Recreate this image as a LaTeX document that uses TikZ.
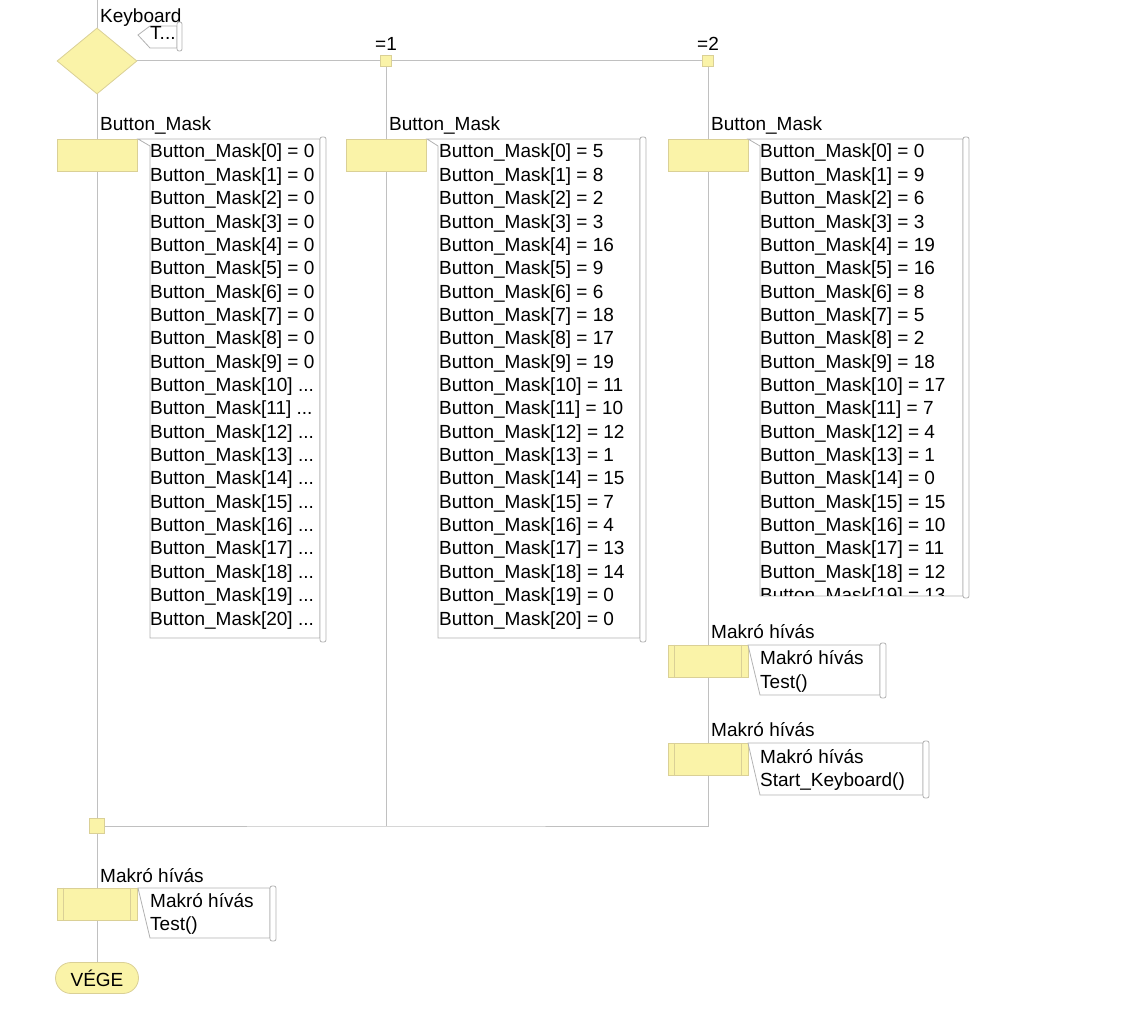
\documentclass[tikz,border=0pt]{standalone}
\usepackage{fontspec}
\setmainfont{Liberation Sans}
\usetikzlibrary{shapes.geometric,shapes.misc,backgrounds}
\definecolor{yel}{RGB}{250,243,168}
\definecolor{yelb}{RGB}{218,208,150}
\definecolor{ln}{RGB}{192,192,192}
\definecolor{cb}{RGB}{178,178,178}
\begin{document}
\begin{tikzpicture}[x=1pt,y=-1pt,font=\fontsize{19}{23}\selectfont,
  flow/.style={draw=ln,line width=1pt},
  act/.style={draw=yelb,fill=yel,minimum width=80pt,minimum height=32pt,inner sep=0pt,line width=0.8pt},
  junc/.style={draw=yelb,fill=yel,minimum size=11pt,inner sep=0pt,line width=0.8pt},
  txt/.style={anchor=base west,inner sep=0pt},
  cmt/.style={draw=cb,fill=white,line width=0.8pt},
  scr/.style={draw=cb,fill=white,line width=0.8pt,rounded corners=2pt},
]
\useasboundingbox (0,0) rectangle (1135,1024);

% shapes
\node[diamond,draw=yelb,fill=yel,minimum width=80pt,minimum height=66pt,inner sep=0pt,line width=0.8pt] (dec) at (97,61) {};
\coordinate (top) at (97,0);
\node[junc] (j1) at (386,61) {};
\node[junc] (j2) at (708,61) {};
\node[act] (a0) at (97,155) {};
\node[act] (a1) at (386,155) {};
\node[act] (a2) at (708,155) {};
\node[act] (m1) at (708,661) {};
\node[act] (m2) at (708,759.5) {};
\node[junc,minimum size=15pt] (mg) at (97,826) {};
\node[act] (m0) at (97,904) {};
\node[rounded rectangle,draw=yelb,fill=yel,minimum width=83pt,minimum height=31pt,inner sep=0pt,line width=0.8pt] (end) at (97,978) {VÉGE};
\coordinate (c1) at (386,826);
\coordinate (c2) at (708,826);

% inner lines of macro call boxes
\foreach \m in {m0,m1,m2}{
  \draw[yelb,line width=0.8pt] ([xshift=7pt]\m.north west) -- ([xshift=7pt]\m.south west);
  \draw[yelb,line width=0.8pt] ([xshift=-7pt]\m.north east) -- ([xshift=-7pt]\m.south east);
}

% connectors
\begin{scope}[on background layer]
\draw[flow] (top) -- (dec.north);
\draw[flow] (dec.east) -- (j1.west);
\draw[flow] (j1.east) -- (j2.west);
\draw[flow] (dec.south) -- (a0.north);
\draw[flow] (a0.south) -- (mg.north);
\draw[flow] (j1.south) -- (a1.north);
\draw[flow] (a1.south) -- (c1);
\draw[flow] (j2.south) -- (a2.north);
\draw[flow] (a2.south) -- (m1.north);
\draw[flow] (m1.south) -- (m2.north);
\draw[flow] (m2.south) -- (c2) -- (c1) -- (mg.east);
\draw[flow] (mg.south) -- (m0.north);
\draw[flow] (m0.south) -- (end.north);
\end{scope}

% labels
\node[txt] (lk) at (100,23) {Keyboard};
\node[txt] (l1) at (375,51) {=1};
\node[txt] (l2) at (697,51) {=2};
\node[txt] (lb0) at (100,131) {Button\_Mask};
\node[txt] (lb1) at (389,131) {Button\_Mask};
\node[txt] (lb2) at (711,131) {Button\_Mask};
\node[txt] (lm1) at (711,638) {Makró hívás};
\node[txt] (lm2) at (711,736) {Makró hívás};
\node[txt] (lm0) at (100,882) {Makró hívás};

% keyboard comment
\draw[cmt] (138,35) -- (150,26) -- (177,26) -- (177,48) -- (150,48) -- cycle;
\draw[scr] (177,22) rectangle (182,51);
\node[txt] (ck) at (150,40) {T...};

% column 1 comment
\draw[cmt] (138,139) -- (320,139) -- (320,638) -- (150,638) -- (150,146) -- cycle;
\draw[scr] (320,137) rectangle (326,642);
\foreach \i in {0,1,2,3,4,5,6,7,8,9}
  \node[txt] (ca-\i) at (150,158+23.35*\i) {Button\_Mask[\i] = 0};
\foreach \i in {10,11,12,13,14,15,16,17,18,19,20}
  \node[txt] (ca-\i) at (150,158+23.35*\i) {Button\_Mask[\i] ...};

% column 2 comment
\draw[cmt] (427,139) -- (640,139) -- (640,638) -- (438,638) -- (438,146) -- cycle;
\draw[scr] (640,137) rectangle (646,642);
\foreach \v [count=\i from 0] in {5,8,2,3,16,9,6,18,17,19,11,10,12,1,15,7,4,13,14,0,0}
  \node[txt] (cb-\i) at (439,158+23.35*\i) {Button\_Mask[\i] = \v};

% column 3 comment
\draw[cmt] (748,139) -- (963,139) -- (963,596) -- (760,596) -- (760,146) -- cycle;
\draw[scr] (963,137) rectangle (969,598);
\begin{scope}
\clip (761,140) rectangle (962,595);
\foreach \v [count=\i from 0] in {0,9,6,3,19,16,8,5,2,18,17,7,4,1,0,15,10,11,12,13}
  \node[txt] (cc-\i) at (760,158+23.35*\i) {Button\_Mask[\i] = \v};
\end{scope}

% macro comments
\draw[cmt] (748,645) -- (880,645) -- (880,695) -- (760,695) -- cycle;
\draw[scr] (880,643) rectangle (886,698);
\node[txt] (cm1a) at (760,664) {Makró hívás};
\node[txt] (cm1b) at (760,688) {Test()};

\draw[cmt] (748,743) -- (923,743) -- (923,795) -- (760,795) -- cycle;
\draw[scr] (923,741) rectangle (929,798);
\node[txt] (cm2a) at (760,763) {Makró hívás};
\node[txt] (cm2b) at (760,786) {Start\_Keyboard()};

\draw[cmt] (138,888) -- (270,888) -- (270,938) -- (150,938) -- cycle;
\draw[scr] (270,886) rectangle (276,941);
\node[txt] (cm0a) at (150,907) {Makró hívás};
\node[txt] (cm0b) at (150,930) {Test()};
\end{tikzpicture}
\end{document}
